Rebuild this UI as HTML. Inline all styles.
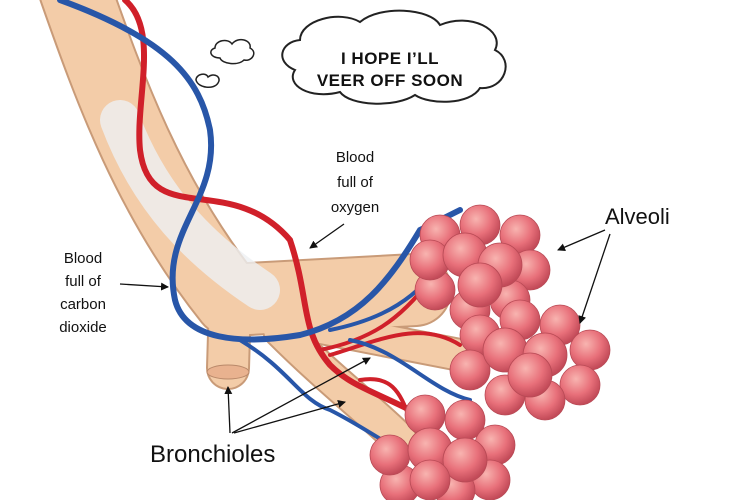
<!DOCTYPE html>
<html><head><style>
body{margin:0;background:#fff;}
svg{display:block;font-family:"Liberation Sans",Arial,sans-serif;}
</style></head><body>
<svg width="750" height="500" viewBox="0 0 750 500" xmlns="http://www.w3.org/2000/svg">
<defs>
<radialGradient id="al" cx="40%" cy="35%" r="65%">
<stop offset="0" stop-color="#f8b4b0"/><stop offset="0.6" stop-color="#e8707a"/><stop offset="1" stop-color="#c24a58"/>
</radialGradient>
<marker id="ah" markerWidth="8" markerHeight="8" refX="7" refY="4" orient="auto" markerUnits="userSpaceOnUse"><path d="M0,0 L8,4 L0,8 z" fill="#111"/></marker>
</defs>
<g fill="none" stroke-linecap="round" stroke-linejoin="round">
<g stroke="#c99b78">
<path d="M75,-10 C110,90 150,200 230,300 L415,290" stroke-width="74"/>
<path d="M230,300 L228,368" stroke-width="44"/>
<path d="M280,320 L460,355" stroke-width="34"/>
<path d="M280,330 C330,380 370,410 400,440" stroke-width="36"/>
</g>
<g stroke="#f3cca8">
<path d="M75,-10 C110,90 150,200 230,300 L415,290" stroke-width="70"/>
<path d="M230,300 L228,368" stroke-width="40"/>
<path d="M280,320 L460,355" stroke-width="30"/>
<path d="M280,330 C330,380 370,410 400,440" stroke-width="32"/>
</g>
<path d="M120,120 C150,200 200,250 260,290" stroke="#eef0f3" stroke-width="40" opacity="0.8"/>
</g>
<ellipse cx="228" cy="372" rx="21" ry="7" fill="#e9b28f" stroke="#b9896a"/>
<g fill="none" stroke-width="6" stroke-linecap="round">
<path d="M125,0 C160,30 135,100 140,150 C150,230 230,170 290,240 C310,300 300,330 330,365 C350,385 370,390 410,410" stroke="#d0202a"/>
<path d="M320,350 C370,340 400,320 430,280 M330,355 C380,340 420,320 460,345 M360,380 C390,375 400,390 410,420" stroke="#d0202a" stroke-width="4"/>
<path d="M60,0 C170,40 200,80 210,130 C220,200 160,230 175,300 C185,340 240,345 300,335 C360,320 390,280 420,230 L460,210" stroke="#2856a8"/>
<path d="M240,340 C290,370 300,400 330,410 C360,425 380,440 400,450 M330,330 C380,320 420,300 450,250 M350,340 C400,350 430,390 470,400" stroke="#2856a8" stroke-width="4"/>
</g>
<g stroke="#b84a55" stroke-width="0.8" fill="url(#al)">
<circle cx="440" cy="235" r="20"/><circle cx="480" cy="225" r="20"/><circle cx="520" cy="235" r="20"/><circle cx="530" cy="270" r="20"/><circle cx="510" cy="300" r="20"/><circle cx="470" cy="310" r="20"/><circle cx="435" cy="290" r="20"/><circle cx="430" cy="260" r="20"/><circle cx="465" cy="255" r="22"/><circle cx="500" cy="265" r="22"/><circle cx="480" cy="285" r="22"/>
<circle cx="480" cy="335" r="20"/><circle cx="520" cy="320" r="20"/><circle cx="560" cy="325" r="20"/><circle cx="590" cy="350" r="20"/><circle cx="580" cy="385" r="20"/><circle cx="545" cy="400" r="20"/><circle cx="505" cy="395" r="20"/><circle cx="470" cy="370" r="20"/><circle cx="505" cy="350" r="22"/><circle cx="545" cy="355" r="22"/><circle cx="530" cy="375" r="22"/>
<circle cx="425" cy="415" r="20"/><circle cx="465" cy="420" r="20"/><circle cx="495" cy="445" r="20"/><circle cx="490" cy="480" r="20"/><circle cx="455" cy="490" r="20"/><circle cx="400" cy="485" r="20"/><circle cx="390" cy="455" r="20"/><circle cx="430" cy="450" r="22"/><circle cx="465" cy="460" r="22"/><circle cx="430" cy="480" r="20"/>
</g>
<g fill="#fff" stroke="#222" stroke-width="2">
<path d="M300,40 C300,20 340,10 360,22 C380,5 430,8 440,25 C470,12 505,30 495,50 C515,60 505,90 480,88 C470,105 430,105 415,95 C395,108 350,106 340,92 C310,100 285,85 295,70 C275,62 280,42 300,40 Z"/>
<path d="M215,48 C215,40 228,38 232,44 C238,36 252,40 250,48 C258,52 252,62 244,60 C238,66 222,64 220,58 C210,58 208,50 215,48 Z" stroke-width="1.5"/>
<path d="M196,80 C196,74 206,72 208,77 C214,72 222,77 218,83 C214,90 198,88 196,80 Z" stroke-width="1.5"/>
</g>
<text x="390" y="64" font-size="17" font-weight="bold" text-anchor="middle" fill="#111" letter-spacing="0.5">I HOPE I’LL</text>
<text x="390" y="86" font-size="17" font-weight="bold" text-anchor="middle" fill="#111" letter-spacing="0.5">VEER OFF SOON</text>
<g font-size="15" fill="#111" text-anchor="middle">
<text x="355" y="162">Blood</text><text x="355" y="187">full of</text><text x="355" y="212">oxygen</text>
<text x="83" y="263">Blood</text><text x="83" y="286">full of</text><text x="83" y="309">carbon</text><text x="83" y="332">dioxide</text>
</g>
<text x="605" y="224" font-size="22" fill="#111">Alveoli</text>
<text x="150" y="462" font-size="24" fill="#111">Bronchioles</text>
<g stroke="#111" stroke-width="1.3" fill="none" marker-end="url(#ah)">
<line x1="344" y1="224" x2="310" y2="248"/>
<line x1="120" y1="284" x2="168" y2="287"/>
<line x1="605" y1="230" x2="558" y2="250"/>
<line x1="610" y1="234" x2="580" y2="323"/>
<line x1="230" y1="433" x2="228" y2="387"/>
<line x1="232" y1="433" x2="370" y2="358"/>
<line x1="234" y1="433" x2="345" y2="402"/>
</g>
</svg>
</body></html>
